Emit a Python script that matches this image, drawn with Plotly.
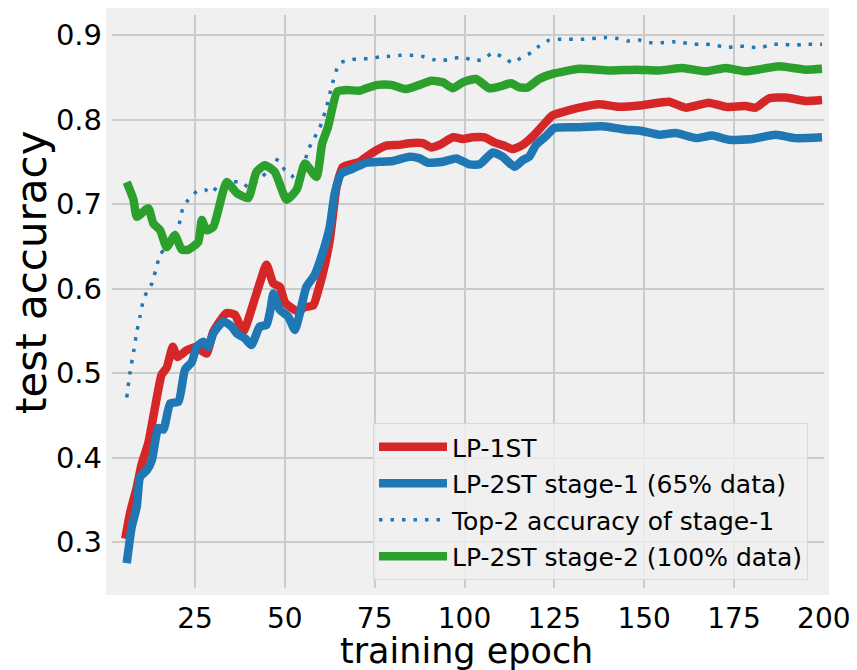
import plotly.graph_objects as go

# ---- data ----
lp1_epoch = [5.6, 6.9, 8.8, 10.2, 12, 13.9, 15.7, 17.1, 18.8, 20.1, 22.7, 25.5, 28.2, 30.1, 33.8, 36.1,
             38.4, 42.1, 44.9, 46.8, 48.6, 50, 51.9, 53.7, 55.6, 57.9, 59.3, 60.6, 62.5, 64.4, 66.2,
             70.8, 74.1, 78.2, 81.9, 84.7, 88.4, 90.7, 93.5, 96.8, 99.5, 102.3, 105.6, 108.3, 111.1,
             113.4, 116.2, 119, 121.8, 124.5, 128.2, 131.9, 137.5, 143, 149.5, 156.9, 161.6, 168,
             172.7, 178.2, 181, 184.7, 189.4, 194.9, 199.5]
lp1_acc = [0.304, 0.334, 0.365, 0.393, 0.417, 0.460, 0.498, 0.506, 0.531, 0.519, 0.527, 0.531, 0.523,
           0.549, 0.571, 0.569, 0.549, 0.594, 0.628, 0.606, 0.602, 0.584, 0.577, 0.573, 0.578, 0.580,
           0.598, 0.618, 0.657, 0.720, 0.744, 0.750, 0.760, 0.769, 0.770, 0.772, 0.772, 0.767, 0.771,
           0.779, 0.777, 0.779, 0.779, 0.773, 0.769, 0.765, 0.770, 0.780, 0.793, 0.805, 0.810, 0.814,
           0.818, 0.815, 0.817, 0.821, 0.814, 0.820, 0.815, 0.816, 0.814, 0.825, 0.826, 0.822, 0.823]

s1_epoch = [6, 7.4, 8.8, 9.7, 11.6, 13, 14.8, 16.2, 18.1, 20.4, 22.2, 24.1, 25.5, 27.3, 28.7, 30.1,
            32.9, 35.2, 36.6, 38.9, 40.7, 43, 44.9, 46, 46.8, 48.6, 50.9, 52.8, 54.2, 56, 58.3, 60.2,
            62.5, 63.9, 65.7, 69, 72.7, 76.4, 80.1, 84.7, 87.5, 89.8, 94, 97.7, 101.4, 104.2, 107.9,
            110.6, 113.9, 116.2, 118, 119.9, 122.6, 125, 131.5, 138.4, 144.9, 148.6, 154.2, 158.8,
            164.4, 169, 173.6, 180.1, 186.6, 192.1, 199.5]
s1_acc = [0.275, 0.318, 0.342, 0.377, 0.385, 0.397, 0.435, 0.433, 0.464, 0.466, 0.504, 0.513, 0.531,
          0.537, 0.531, 0.547, 0.561, 0.555, 0.547, 0.541, 0.533, 0.555, 0.557, 0.575, 0.594, 0.575,
          0.567, 0.551, 0.571, 0.602, 0.616, 0.638, 0.673, 0.713, 0.736, 0.742, 0.749, 0.750, 0.751,
          0.756, 0.754, 0.749, 0.750, 0.754, 0.747, 0.747, 0.761, 0.756, 0.744, 0.752, 0.756, 0.770,
          0.780, 0.790, 0.791, 0.792, 0.788, 0.787, 0.782, 0.784, 0.778, 0.781, 0.776, 0.777, 0.782,
          0.778, 0.779]

top2_epoch = [6, 6.9, 7.9, 8.8, 9.7, 10.6, 11.6, 13, 14.3, 15.3, 16.7, 18.5, 20.4, 21.6, 23.1, 25.5,
              27.8, 29.6, 31.5, 34.3, 38, 39.8, 42.6, 45.4, 46.8, 48.6, 50, 51.9, 53.3, 54.6, 56.5,
              57.9, 59.7, 61.6, 63, 64.4, 65.3, 67.6, 70.4, 73.1, 76.4, 79.2, 82.4, 85.2, 88, 91.2,
              94, 96.7, 99.5, 102.3, 105.1, 107.9, 110.6, 113.4, 115.7, 118.5, 120.8, 123.6, 126.9,
              132.9, 139.4, 142.6, 145.4, 148.6, 151.4, 154.6, 157.9, 160.6, 163.9, 167.1, 169.9,
              173.1, 175.9, 179.2, 182.4, 185.6, 188.4, 191.7, 194.9, 199.5]
top2_acc = [0.471, 0.500, 0.525, 0.549, 0.567, 0.586, 0.596, 0.606, 0.626, 0.640, 0.648, 0.659, 0.673,
            0.695, 0.705, 0.715, 0.717, 0.713, 0.722, 0.726, 0.726, 0.720, 0.728, 0.740, 0.754, 0.750,
            0.740, 0.734, 0.726, 0.736, 0.764, 0.776, 0.790, 0.815, 0.839, 0.859, 0.867, 0.870, 0.872,
            0.872, 0.874, 0.875, 0.876, 0.876, 0.875, 0.871, 0.870, 0.872, 0.874, 0.870, 0.871, 0.879,
            0.874, 0.867, 0.873, 0.879, 0.887, 0.894, 0.895, 0.895, 0.897, 0.896, 0.893, 0.894, 0.891,
            0.891, 0.892, 0.891, 0.889, 0.889, 0.888, 0.885, 0.887, 0.886, 0.885, 0.889, 0.889, 0.888,
            0.889, 0.889]

s2_epoch = [6, 7.9, 8.8, 12, 13.4, 15.3, 17.1, 19.4, 21.3, 23.1, 25.9, 26.9, 28.2, 30.1, 33.8, 36.6,
            39.8, 42.1, 44.4, 47.2, 50.5, 53.3, 55.6, 58.8, 60.4, 62, 64.6, 67.1, 70.8, 72.7, 75.9,
            79.6, 83.8, 87.5, 90.7, 94, 96.7, 99.5, 103.2, 106.9, 109.7, 113, 115.3, 117.6, 120.8,
            124.5, 131.9, 140.3, 147.7, 154.2, 160.6, 167.1, 172.7, 178.2, 187.5, 194.9, 199.5]
s2_acc = [0.726, 0.705, 0.685, 0.695, 0.677, 0.669, 0.649, 0.663, 0.646, 0.646, 0.655, 0.681, 0.669,
          0.673, 0.726, 0.713, 0.707, 0.738, 0.746, 0.738, 0.705, 0.717, 0.748, 0.732, 0.772, 0.791,
          0.833, 0.835, 0.834, 0.837, 0.841, 0.841, 0.836, 0.841, 0.846, 0.844, 0.837, 0.844, 0.848,
          0.837, 0.839, 0.843, 0.838, 0.838, 0.848, 0.854, 0.860, 0.858, 0.859, 0.858, 0.861, 0.857,
          0.861, 0.857, 0.863, 0.859, 0.860]

x_ticks = [25, 50, 75, 100, 125, 150, 175, 200]
y_ticks = [0.3, 0.4, 0.5, 0.6, 0.7, 0.8, 0.9]
y_tick_labels = ["0.3", "0.4", "0.5", "0.6", "0.7", "0.8", "0.9"]

RED, BLUE, GREEN = "#d62728", "#1f77b4", "#2ca02c"
FONT = "DejaVu Sans"

fig = go.Figure()
common = dict(mode="lines", line_shape="spline")
fig.add_trace(go.Scatter(x=lp1_epoch, y=lp1_acc, name="LP-1ST", legendgroup="a",
                         line=dict(color=RED, width=8.5, smoothing=0.5), **common))
fig.add_trace(go.Scatter(x=s1_epoch, y=s1_acc, name="LP-2ST stage-1 (65% data)", legendgroup="b",
                         line=dict(color=BLUE, width=8.5, smoothing=0.5), **common))
fig.add_trace(go.Scatter(x=top2_epoch, y=top2_acc, name="Top-2 accuracy of stage-1", legendgroup="c",
                         line=dict(color=BLUE, width=3.5, dash="3.5px,8px", smoothing=0.5), **common))
fig.add_trace(go.Scatter(x=s2_epoch, y=s2_acc, name="LP-2ST stage-2 (100% data)", legendgroup="d",
                         line=dict(color=GREEN, width=8.5, smoothing=0.5), **common))

# page is rendered with an 8px body margin, so the figure is sized/offset to compensate
OFF = 8
W, H = 857 - OFF, 670 - OFF
L, T = 112 - OFF, 15 - OFF
R = W - (824 - OFF)
B = H - (588 - OFF)
pw, ph = W - L - R, H - T - B


def px_x(page_x):
    return (page_x - OFF - L) / pw


def px_y(page_y):
    return (H - B - (page_y - OFF)) / ph


fig.update_layout(
    width=W, height=H,
    margin=dict(l=L, r=R, t=T, b=B, autoexpand=False),
    paper_bgcolor="white",
    plot_bgcolor="#f0f0f0",
    font=dict(family=FONT, color="black"),
    showlegend=True,
    legend=dict(
        x=px_x(373), y=px_y(423), xanchor="left", yanchor="top",
        bgcolor="rgba(240,240,240,0.85)", bordercolor="#d8d8d8", borderwidth=1,
        font=dict(family=FONT, size=25, color="black"),
        tracegroupgap=1, itemwidth=68,
    ),
    xaxis=dict(
        range=[1.9, 200.05], tickmode="array", tickvals=x_ticks,
        ticktext=[str(v) for v in x_ticks], automargin=False,
        showgrid=True, gridcolor="#cbcbcb", gridwidth=1.5, zeroline=False,
        showline=False, ticks="", tickfont=dict(size=28, family=FONT),
        ticklabelstandoff=11,
    ),
    yaxis=dict(
        range=[0.2456, 0.9237], tickmode="array", tickvals=y_ticks, ticktext=y_tick_labels,
        automargin=False,
        showgrid=True, gridcolor="#cbcbcb", gridwidth=1.5, zeroline=False,
        showline=False, ticks="", tickfont=dict(size=29, family=FONT),
        ticklabelstandoff=9,
    ),
    annotations=[
        dict(text="training epoch", xref="paper", yref="paper", x=px_x(466),
             y=px_y(651), xanchor="center", yanchor="middle", showarrow=False,
             font=dict(size=35, family=FONT, color="black")),
        dict(text="test accuracy", xref="paper", yref="paper", x=px_x(31),
             y=px_y(272), xanchor="center", yanchor="middle", showarrow=False,
             textangle=-90, font=dict(size=42, family=FONT, color="black")),
    ],
    shapes=[dict(type="rect", xref="paper", yref="paper", layer="below",
                 x0=-6 / pw, x1=1 + 5 / pw, y0=-7 / ph, y1=1 + 8 / ph,
                 fillcolor="#f0f0f0", line=dict(width=0))],
)

fig.write_html("out.html")
